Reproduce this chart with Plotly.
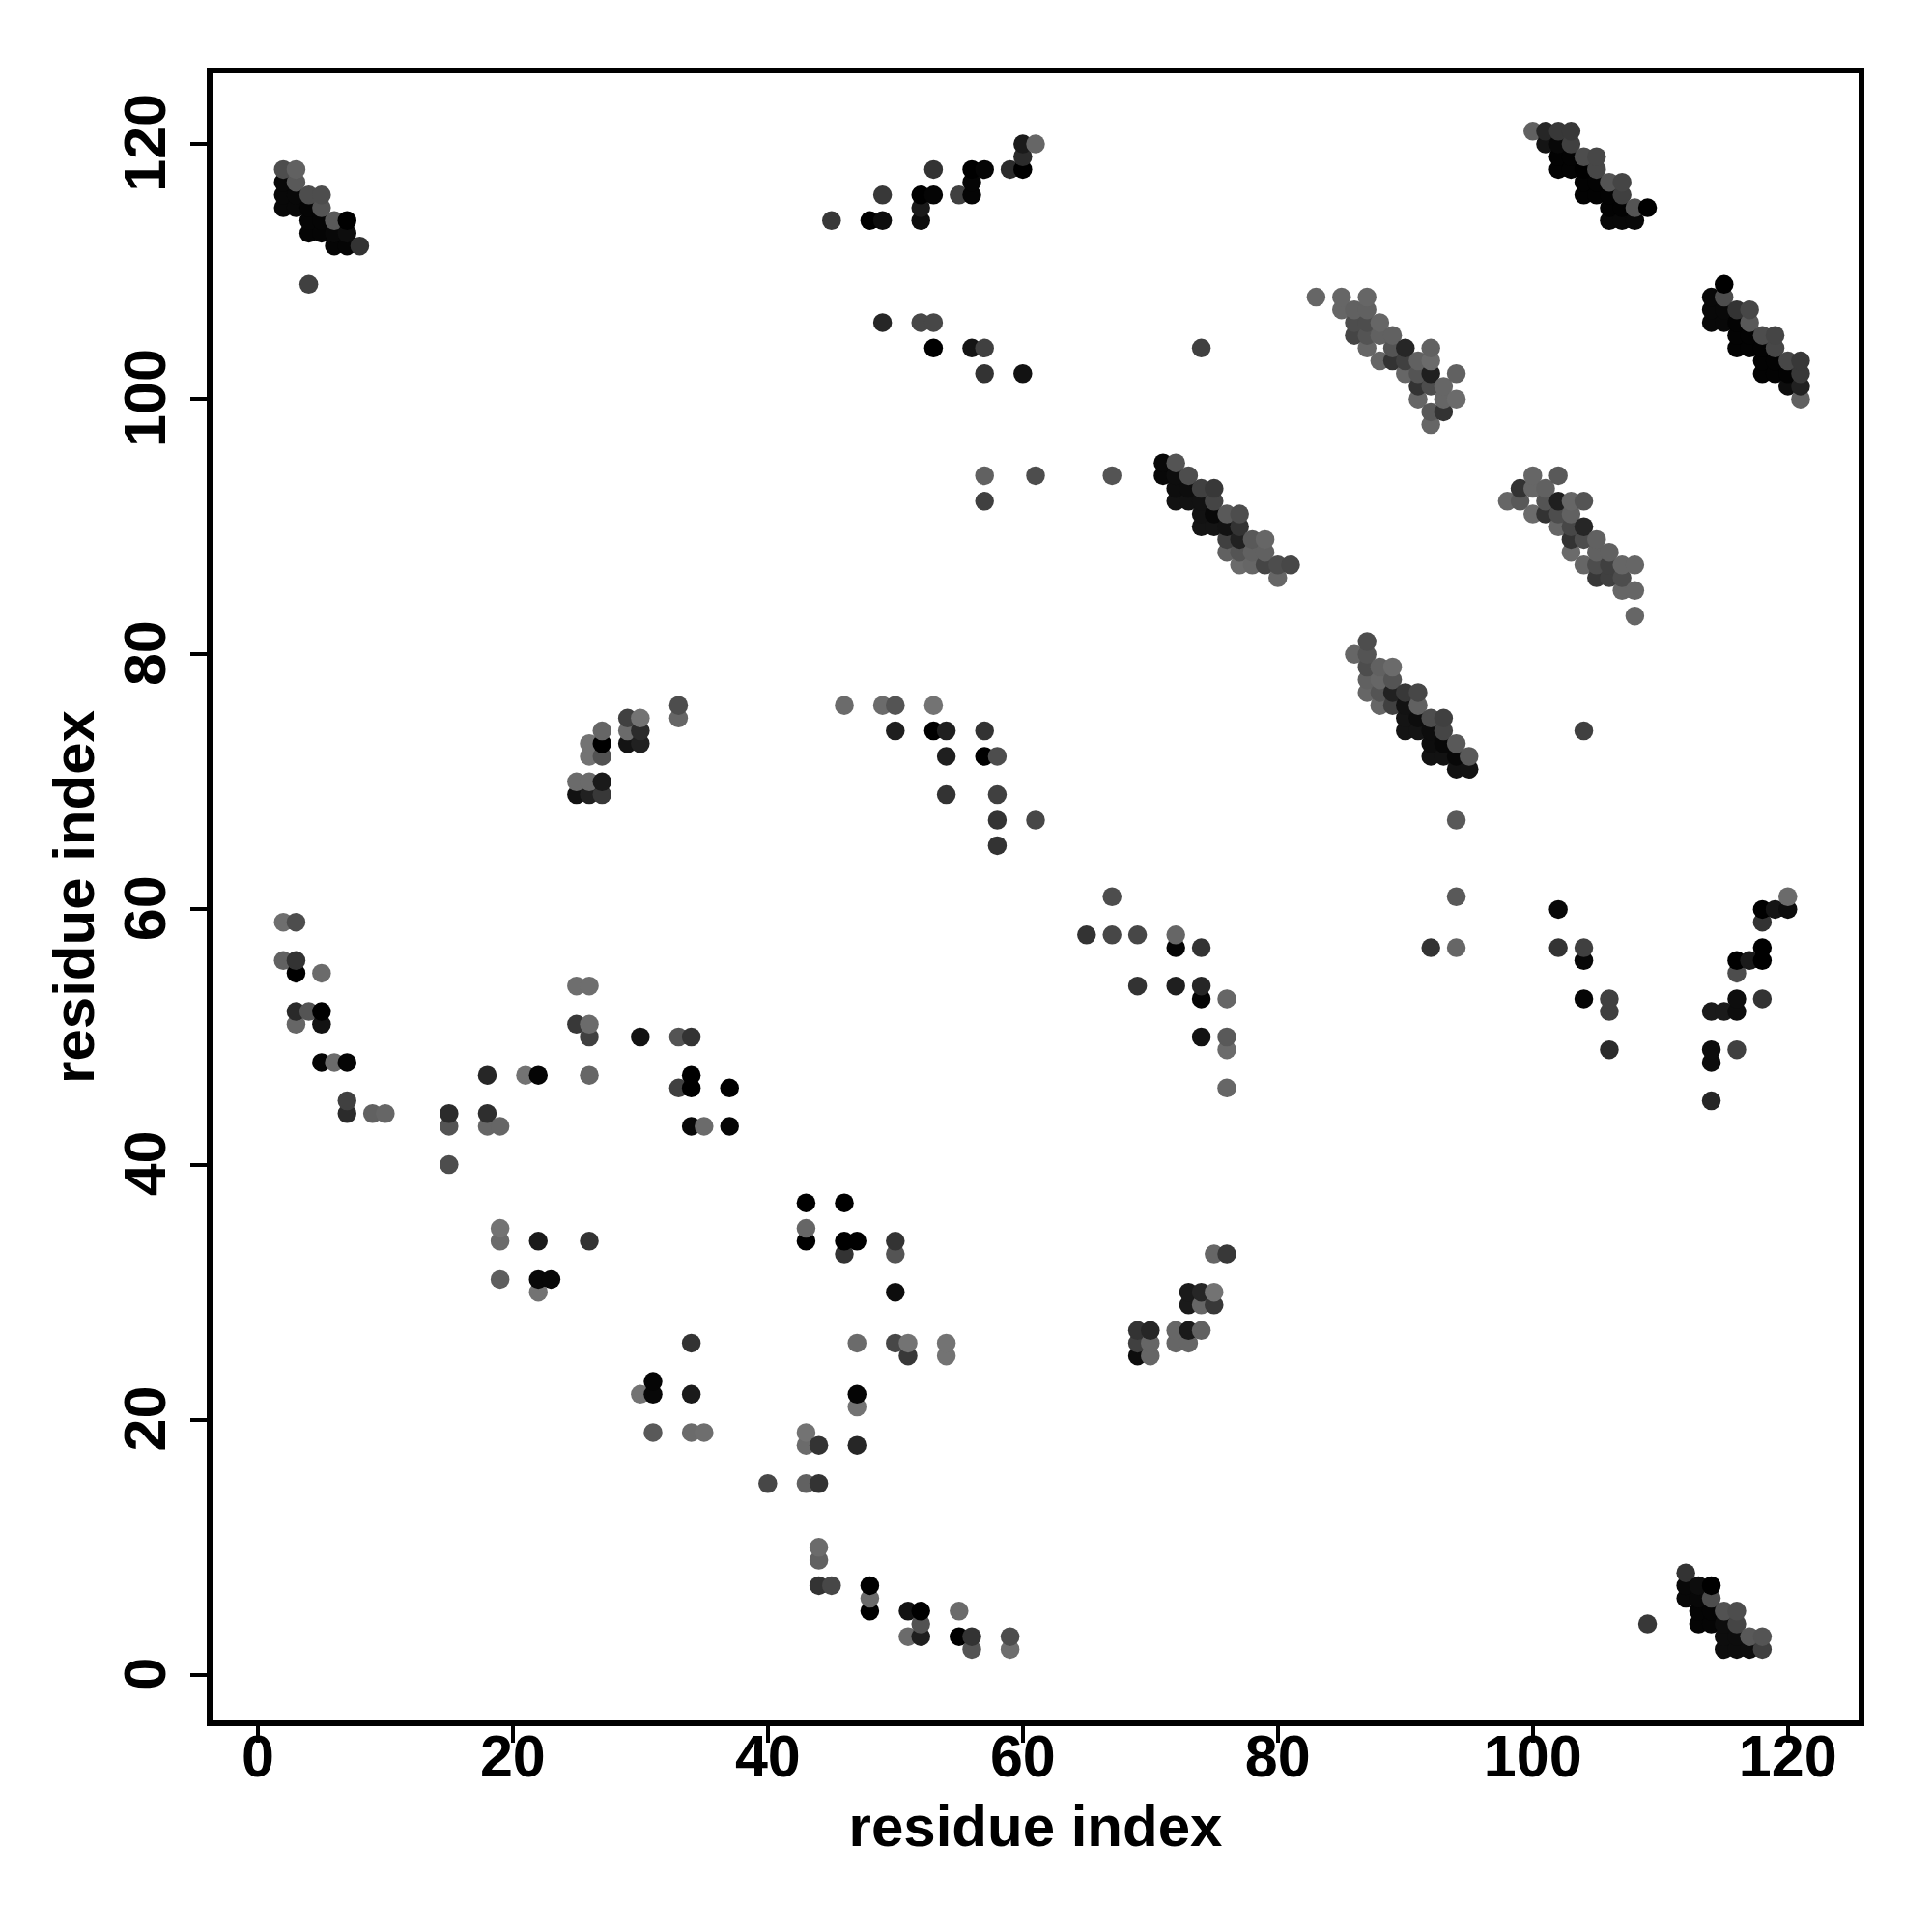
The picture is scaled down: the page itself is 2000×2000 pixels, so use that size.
import numpy as np
import plotly.graph_objects as go

# Contacts: (residue i, residue j, shade 0=black .. 1=white)
helix_n_top = [(2,118,.3),(3,118,.38),(3,117,.35),(2,117,.03),(2,116,.03),(2,115,.03),(3,116,.03),(3,115,.03),
    (4,116,.3),(5,116,.3),(5,115,.33),(4,115,.02),(4,114,.02),(4,113,.02),(5,114,.02),(5,113,.02),(6,113,.03),
    (6,114,.35),(7,114,0),(7,113,.05),(6,112,.02),(7,112,.02),(8,112,.2),(4,109,.25)]
helix_top_right_a = [(100,121,.38),(101,121,.15),(102,121,.22),(103,121,.22),(101,120,.08),(102,120,.03),(103,120,.25),
    (102,119,.01),(103,119,.01),(102,118,.01),(103,118,.01),(104,119,.3),(105,119,.28),(105,118,.28),(104,118,0),
    (104,117,.01),(105,117,.01),(104,116,.01),(105,116,.01),(106,116,.01),(106,117,.33),(107,117,.27),(107,116,.25),
    (106,115,.01),(107,115,.01),(108,115,.33),(109,115,0),(106,114,.03),(107,114,.03),(108,114,.03)]
helix_top_right_b = [(115,109,0),(114,108,.03),(115,108,.3),(114,107,.03),(114,106,.03),(115,107,.03),(115,106,.03),
    (116,107,.2),(117,107,.28),(117,106,.35),(116,106,.01),(116,105,.01),(117,105,.01),(116,104,.01),(117,104,.01),
    (118,104,.01),(118,105,.3),(119,105,.27),(119,104,.28),(118,103,.01),(119,103,.01),(118,102,.01),(119,102,.01),
    (120,102,.01),(120,103,.28),(121,103,.22),(121,102,.22),(120,101,.05),(121,101,.13),(121,100,.38)]
helix_mid_a = [(83,108,.4),(85,108,.4),(87,108,.4),(85,107,.4),(86,107,.38),(87,107,.38),(86,106,.3),(87,106,.3),(88,106,.4),
    (86,105,.27),(87,105,.33),(88,105,.38),(89,105,.38),(87,104,.4),(89,104,.33),(90,104,.15),(92,104,.38),(88,103,.4),
    (89,103,.2),(90,103,.25),(91,103,.38),(92,103,.42),(90,102,.4),(91,102,.33),(92,102,.12),(94,102,.38),(91,101,.2),
    (92,101,.3),(93,101,.4),(91,100,.4),(93,100,.4),(94,100,.42),(92,99,.35),(93,99,.2),(92,98,.4)]
helix_mid_b = [(71,95,.03),(72,95,.33),(71,94,.03),(72,94,.05),(73,94,.3),(72,93,.05),(73,93,.05),(74,93,.25),(75,93,.22),
    (75,92,.27),(72,92,.07),(73,92,.07),(74,92,.07),(74,91,.07),(75,91,.03),(76,91,.35),(77,91,.3),(74,90,.08),(75,90,.08),
    (76,90,.07),(77,90,.2),(76,89,.25),(77,89,.13),(78,89,.35),(79,89,.4),(76,88,.38),(77,88,.33),(78,88,.38),(79,88,.38),
    (77,87,.42),(78,87,.4),(79,87,.27),(80,87,.3),(81,87,.28),(80,86,.4)]
helix_mid_c = [(100,94,.4),(102,94,.35),(99,93,.2),(100,93,.4),(101,93,.38),(98,92,.4),(99,92,.35),(101,92,.33),(102,92,.12),
    (103,92,.4),(104,92,.33),(100,91,.42),(101,91,.2),(102,91,.3),(103,91,.38),(102,90,.4),(103,90,.28),(104,90,.15),
    (103,89,.2),(104,89,.3),(105,89,.38),(103,88,.42),(105,88,.38),(106,88,.38),(104,87,.4),(105,87,.3),(106,87,.25),
    (107,87,.4),(108,87,.4),(105,86,.22),(106,86,.25),(107,86,.3),(107,85,.4),(108,85,.4),(108,83,.4)]
helix_mid_d = [(87,81,.3),(86,80,.4),(87,80,.33),(87,79,.3),(88,79,.38),(89,79,.42),(87,78,.38),(88,78,.4),(89,78,.33),
    (87,77,.4),(88,77,.33),(89,77,.13),(90,77,.22),(91,77,.28),(88,76,.4),(89,76,.25),(90,76,.07),(91,76,.38),(90,75,.08),
    (91,75,.05),(92,75,.3),(93,75,.25),(90,74,.08),(91,74,.08),(92,74,.05),(93,74,.27),(92,73,.05),(93,73,.03),(94,73,.35),
    (92,72,.07),(93,72,.07),(94,72,.03),(95,72,.35),(94,71,.07),(95,71,.07)]
helix_bottom_right = [(112,8,.2),(112,7,.03),(113,7,.05),(114,7,0),(112,6,.03),(113,6,.03),(114,6,.3),(113,5,.02),(114,5,.02),
    (115,5,.32),(116,5,.3),(113,4,.02),(114,4,.02),(115,4,.05),(116,4,.27),(115,3,.05),(116,3,.05),(117,3,.35),(118,3,.33),
    (115,2,.05),(116,2,.05),(117,2,.05),(118,2,.25),(109,4,.22)]
top_middle = [(60,120,.1),(61,120,.4),(60,119,.17),(53,118,.2),(56,118,0),(57,118,.02),(59,118,.17),(60,118,0),(56,117,.02),
    (49,116,.22),(52,116,0),(53,116,.02),(55,116,.25),(56,116,.02),(52,115,.1),(45,114,.22),(48,114,0),(49,114,.05),(52,114,.05),
    (49,106,.15),(52,106,.28),(53,106,.28),(53,104,0),(56,104,.08),(57,104,.25),(57,102,.2),(60,102,.07)]
left_block = [(2,59,.43),(3,59,.3),(2,56,.38),(3,56,.2),(3,55,0),(5,55,.42),(3,52,.16),(4,52,.33),(5,52,0),(3,51,.4),(5,51,.07),
    (5,48,.02),(6,48,.42),(7,48,.02),(7,45,.25),(7,44,.17),(9,44,.38),(10,44,.4),(15,44,.17),(15,43,.33),(18,44,.18),(18,43,.4),
    (19,43,.4),(15,40,.3),(18,47,.15),(21,47,.45),(22,47,.02),(25,54,.43),(26,54,.43),(25,51,.22),(26,51,.42),(26,50,.25),
    (30,50,.07),(26,47,.4),(33,50,.33),(34,50,.2),(34,47,0),(33,46,.25),(34,46,0),(37,46,0),(34,43,.03),(35,43,.42),(37,43,.02),
    (19,35,.45),(19,34,.42),(22,34,.1),(26,34,.2),(19,31,.37),(22,31,.03),(23,31,.03),(22,30,.45)]
upper_left_block = [(33,76,.3),(33,75,.4),(29,75,.25),(30,75,.45),(27,74,.4),(29,74,.42),(30,74,.17),(26,73,.45),(27,73,0),
    (29,73,.08),(30,73,.13),(26,72,.45),(27,72,.32),(25,70,.42),(26,70,.42),(27,70,.1),(25,69,.07),(26,69,.13),(27,69,.22)]
centre_block = [(46,76,.42),(49,76,.42),(50,76,.33),(53,76,.45),(50,74,.12),(53,74,0),(54,74,.12),(57,74,.2),(54,72,.12),(57,72,0),
    (58,72,.3),(54,69,.2),(58,69,.25),(58,67,.2),(61,67,.28),(58,65,.2)]
lower_block = [(43,37,0),(46,37,0),(43,35,.4),(43,34,0),(46,34,0),(47,34,0),(46,33,.2),(50,34,.2),(50,33,.33),(50,30,.05),(34,26,.2),
    (47,26,.42),(50,26,.28),(51,26,.45),(54,26,.45),(51,25,.22),(54,25,.45),(31,23,.02),(30,22,.45),(31,22,.03),(34,22,.1),(47,22,.02),
    (47,21,.45),(31,19,.35),(34,19,.42),(35,19,.43),(43,19,.45),(43,18,.42),(44,18,.2),(47,18,.15),(40,15,.28),(43,15,.38),(44,15,.2),
    (44,10,.42),(44,9,.38),(44,7,.2),(45,7,.28),(48,7,0),(48,6,.42),(48,5,0),(51,5,.07),(52,5,0),(55,5,.42),(52,4,.32),(51,3,.42),
    (52,3,.12),(55,3,0),(56,3,.2),(59,3,.3),(56,2,.33),(59,2,.43)]
lower_mid_block = [(69,27,.2),(70,27,.15),(69,26,.25),(69,25,.05),(70,25,.4),(70,26,.4),(72,27,.4),(72,26,.4),(73,27,.1),(73,26,.4),
    (74,27,.38),(73,30,.1),(74,30,.15),(75,30,.45),(73,29,.1),(74,29,.4),(75,29,.22),(75,33,.4),(76,33,.22)]
right_mid_block = [(65,58,.2),(67,58,.28),(69,58,.28),(67,61,.3),(72,58,.4),(72,57,.02),(74,57,.2),(69,54,.2),(72,54,.12),(74,54,.15),
    (74,53,.02),(76,53,.4),(74,50,.07),(76,50,.35),(76,49,.42),(76,46,.4)]
isolated = [(94,67,.35),(94,61,.35),(92,57,.2),(94,57,.4),(104,74,.25),(74,104,.25),(57,94,.38),(61,94,.3),(67,94,.33),(57,92,.25)]
far_right = [(102,60,.03),(102,57,.2),(104,57,.25),(104,56,.03),(104,53,.02),(106,53,.25),(106,52,.25),(106,49,.17),(114,52,.1),
    (115,52,.1),(116,52,.05),(116,53,.05),(118,53,.2),(114,49,.05),(114,48,.05),(116,49,.25),(114,45,.15),(116,55,.3),(116,56,0),
    (117,56,.1),(118,56,0),(118,57,0),(118,59,.2),(118,60,0),(119,60,.08),(120,60,.05),(120,61,.42)]

axis_ticks = [0, 20, 40, 60, 80, 100, 120]
axis_title = "residue index"

contacts = np.array(helix_n_top + helix_top_right_a + helix_top_right_b + helix_mid_a + helix_mid_b + helix_mid_c
                    + helix_mid_d + helix_bottom_right + top_middle + left_block + upper_left_block + centre_block
                    + lower_block + lower_mid_block + right_mid_block + isolated + far_right)
order = np.lexsort((contacts[:, 1], contacts[:, 0]))
contacts = contacts[order]

TICK_FONT = dict(family="Liberation Sans", size=61, color="black")
TITLE_FONT = dict(family="Liberation Sans", size=60, color="black")

fig = go.Figure(go.Scatter(
    x=contacts[:, 0], y=contacts[:, 1], mode="markers",
    marker=dict(size=19.5, color=contacts[:, 2], cmin=0, cmax=1,
                colorscale=[[0, "rgb(0,0,0)"], [1, "rgb(255,255,255)"]], line=dict(width=0), opacity=1),
))
axis = dict(tickmode="array", tickvals=axis_ticks, ticktext=[f"<b>{t}</b>" for t in axis_ticks],
            ticks="outside", ticklen=17, tickwidth=4, tickcolor="black", showgrid=False, zeroline=False,
            showline=True, linecolor="black", linewidth=6, mirror=True, tickfont=TICK_FONT)
fig.update_xaxes(range=[-3.55, 125.55], ticklabelstandoff=-38,
                 title=dict(text=f"<b>{axis_title}</b>", font=TITLE_FONT, standoff=20), **axis)
fig.update_yaxes(range=[-3.57, 125.53], ticklabelstandoff=2, ticklabelshift=8, tickangle=-90,
                 title=dict(text=f"<b>{axis_title}</b>", font=TITLE_FONT, standoff=1), **axis)
fig.update_layout(width=2000, height=2000, margin=dict(l=212, r=84, t=68, b=227), showlegend=False,
                  paper_bgcolor="white", plot_bgcolor="white")
fig.write_html("out.html")
